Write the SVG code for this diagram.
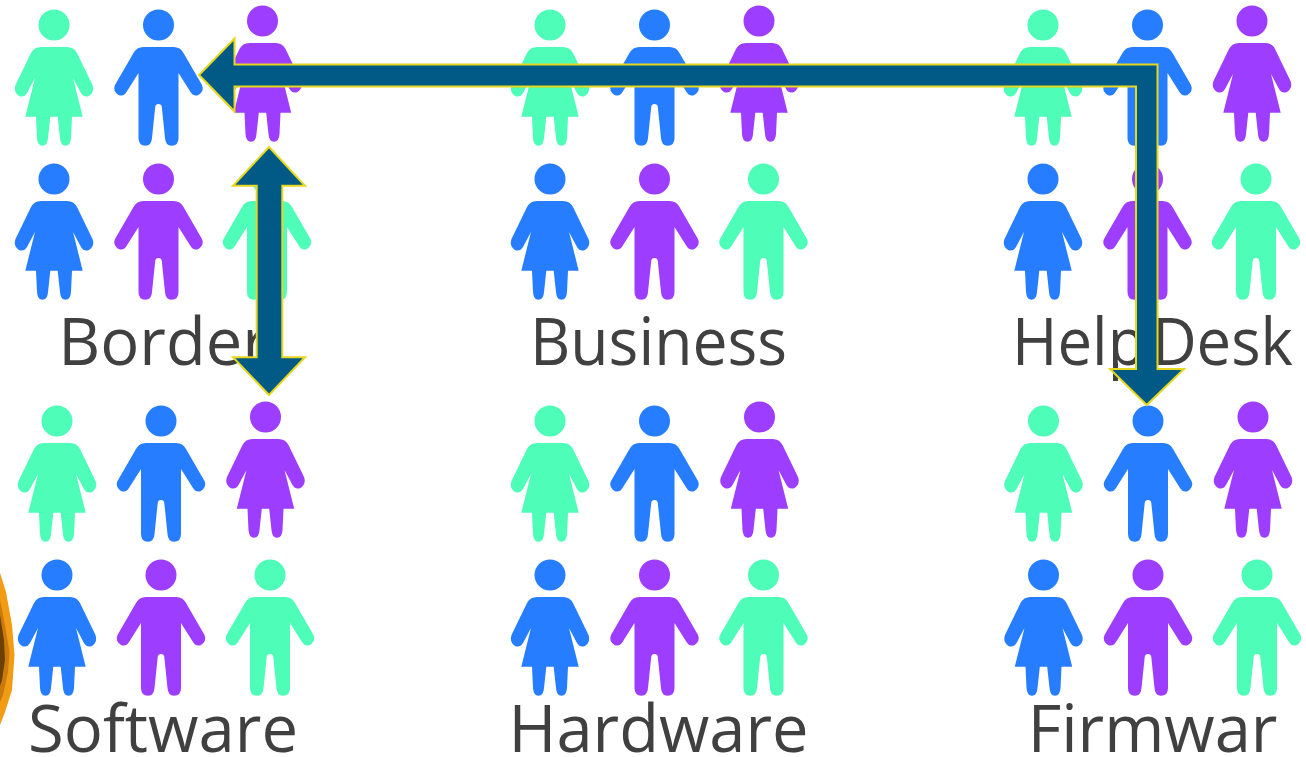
<svg xmlns="http://www.w3.org/2000/svg" width="1306" height="757" viewBox="0 0 1306 757">
<style>
.g{fill:#4dfdb8}.b{fill:#267dff}.p{fill:#9c3cff}
.g,.b,.p{filter:url(#soft)}
text{font-family:"Open Sans","Noto Sans","Liberation Sans",sans-serif;font-size:65px;fill:#404040;text-anchor:middle}
.arrow{fill:#005a85;stroke:#e6d81f;stroke-width:2;stroke-linejoin:miter}
</style>
<defs>
<filter id="soft" x="-10%" y="-10%" width="120%" height="120%"><feGaussianBlur stdDeviation="0.5"/></filter>
<g id="woman"><circle cx="0" cy="0" r="15.500"/><path d="M-13,22H13Q20,22 23,28L38.500,60Q41,67 35,71Q30,73 27,68L19,53L28.700,91.700H18L17,113Q16.500,120.700 11.500,120.700Q6.500,120.700 6,113L3.700,91.700H-3.700L-6,113Q-6.500,120.700 -11.500,120.700Q-16.500,120.700 -17,113L-18,91.700H-28.700L-19,53L-27,68Q-30,73 -35,71Q-41,67 -38.500,60L-23,28Q-20,22 -13,22Z"/></g>
<g id="man"><circle cx="0" cy="0" r="15.500"/><path d="M-15,22H15Q22,22 25,28L43.500,60Q46,66 40,70Q35,72 32,67L20,48V113Q20,120.700 13,120.700Q7,120.700 6.500,113L3.300,82Q3,79 0,79Q-3,79 -3.300,82L-6.500,113Q-7,120.700 -13,120.700Q-20,120.700 -20,113V48L-32,67Q-35,72 -40,70Q-46,66 -43.500,60L-25,28Q-22,22 -15,22Z"/></g>
</defs>
<g id="orange-shape" filter="url(#soft)">
<path d="M0,573L6,592L12,625L14.500,655L12,690L5,712L0,725Z" fill="#f29c12"/>
<path d="M0,600L5,625L9.500,652L8,672L3,695L0,702Z" fill="#c97b08"/>
<path d="M0,615L4,640L5,660L2,680L0,686Z" fill="#6e4006"/>
</g>
<g id="border">
<use href="#woman" class="g" x="54" y="25"/><use href="#man" class="b" x="158.500" y="25"/><use href="#woman" class="p" x="262.500" y="21"/>
<use href="#woman" class="b" x="54" y="179"/><use href="#man" class="p" x="158.500" y="179"/><use href="#man" class="g" x="267" y="179"/>
<text x="163.500" y="365">Border</text></g>
<g id="business">
<use href="#woman" class="g" x="550" y="25"/><use href="#man" class="b" x="654.500" y="25"/><use href="#woman" class="p" x="759" y="21"/>
<use href="#woman" class="b" x="550" y="179"/><use href="#man" class="p" x="654.500" y="179"/><use href="#man" class="g" x="763.500" y="179"/>
<text x="658.500" y="365" textLength="257" lengthAdjust="spacingAndGlyphs">Business</text></g>
<g id="helpdesk">
<use href="#woman" class="g" x="1043" y="25"/><use href="#man" class="b" x="1147.500" y="25"/><use href="#woman" class="p" x="1252" y="21"/>
<use href="#woman" class="b" x="1043" y="179"/><use href="#man" class="p" x="1147.500" y="179"/><use href="#man" class="g" x="1256" y="179"/>
<text x="1152.500" y="365" word-spacing="-10" textLength="281" lengthAdjust="spacingAndGlyphs">Help Desk</text></g>
<g id="software">
<use href="#woman" class="g" x="57" y="421"/><use href="#man" class="b" x="161" y="421"/><use href="#woman" class="p" x="265.500" y="417"/>
<use href="#woman" class="b" x="57" y="575"/><use href="#man" class="p" x="161" y="575"/><use href="#man" class="g" x="270" y="575"/>
<text x="163" y="752" textLength="270" lengthAdjust="spacingAndGlyphs">Software</text></g>
<g id="hardware">
<use href="#woman" class="g" x="550" y="421"/><use href="#man" class="b" x="654.500" y="421"/><use href="#woman" class="p" x="759.500" y="417"/>
<use href="#woman" class="b" x="550" y="575"/><use href="#man" class="p" x="654.500" y="575"/><use href="#man" class="g" x="763.500" y="575"/>
<text x="658.500" y="752">Hardware</text></g>
<g id="firmware">
<use href="#woman" class="g" x="1043.500" y="421"/><use href="#man" class="b" x="1148" y="421"/><use href="#woman" class="p" x="1253" y="417"/>
<use href="#woman" class="b" x="1043.500" y="575"/><use href="#man" class="p" x="1148" y="575"/><use href="#man" class="g" x="1257" y="575"/>
<text x="1152.500" y="752">Firmwar</text></g>
<g id="connectors">
<path class="arrow" d="M199,75L234.500,38.500V64.500H1157.500V369H1184L1146.700,405L1110,369H1136V86.500H234.500V111.500Z"/>
<path class="arrow" d="M269,147L305,185.700H282.300V357.300H305L269,395L233,357.300H256.700V185.700H233Z"/>
</g>
</svg>
